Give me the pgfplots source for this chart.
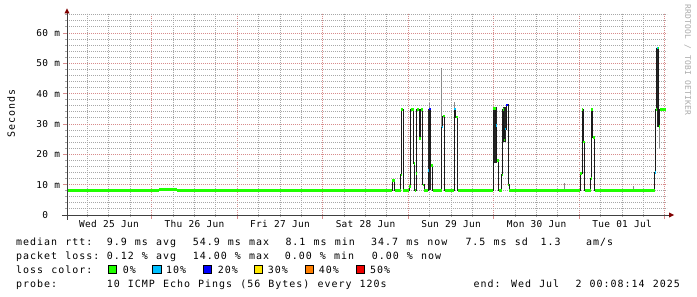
\documentclass[border=0pt]{standalone}
\usepackage{pgfplots}
\pgfplotsset{compat=1.18}
\usepackage{pgfplotstable}
\usepackage{fontspec}
\newfontfamily\lgfont[LetterSpace=10,WordSpace=1.166]{DejaVu Sans Mono}
\newfontfamily\tkfont[LetterSpace=3,WordSpace=1.05]{DejaVu Sans Mono}
\newcommand\lgf{\lgfont\fontsize{10}{12}\selectfont}
\newcommand\tkf{\tkfont\fontsize{9.5}{11}\selectfont}
\newcommand\wmf{\tkfont\fontsize{8}{9.5}\selectfont}
\definecolor{mgrid}{HTML}{D88C8C}
\definecolor{ngrid}{HTML}{A8A8A8}
\definecolor{axiscol}{HTML}{404040}
\definecolor{arrowcol}{HTML}{800000}
\definecolor{medblack}{HTML}{1A1A1A}
\definecolor{smoke}{HTML}{262626}
\definecolor{smokel}{HTML}{8A8A8A}
\definecolor{wmcol}{HTML}{AAAAAA}
\definecolor{c0}{HTML}{20FF00}
\definecolor{c10}{HTML}{00C0FF}
\definecolor{c20}{HTML}{0000FF}
\definecolor{c30}{HTML}{FFE800}
\definecolor{c40}{HTML}{FF7F00}
\definecolor{c50}{HTML}{EE0000}

% median rtt (ms) vs hours since Wed 25 Jun 00:00
\pgfplotstableread{
h v
0.22 8.1
26.04 8.5
31.09 8.1
91.52 11.3
92.13 8.1
93.82 13.2
94.01 34.8
94.60 8.1
96.29 9.3
96.68 34.8
97.52 17.0
97.83 8.1
98.17 13.7
98.39 34.8
99.09 25.3
99.49 34.8
100.05 9.9
100.41 8.1
101.62 14.6
101.90 35.0
102.29 16.3
102.85 8.1
105.32 29.0
105.66 32.6
106.22 8.1
108.92 35.0
109.25 32.3
109.87 8.1
119.86 35.2
120.48 29.5
120.84 18.0
121.38 8.1
122.25 13.2
122.44 34.8
122.78 24.7
123.06 28.3
123.42 36.3
123.99 9.9
124.35 8.1
144.19 13.7
144.75 34.8
145.12 24.1
145.51 8.1
147.20 12.1
147.36 34.8
147.76 25.6
148.32 8.1
165.16 14.0
165.38 34.8
165.72 55.0
166.28 29.1
166.50 34.7
168.41 34.7
}\median

\begin{document}
\begin{tikzpicture}
\path[use as bounding box] (-67bp,-82bp) rectangle (630bp,215bp);
\begin{axis}[
  scale only axis, width=600bp, height=202bp,
  at={(0,0)}, anchor=south west,
  xmin=0.22, xmax=168.6, ymin=0, ymax=66.6,
  axis line style={draw=none},
  tick pos=left, tick align=outside,
  xtick={24,48,72,96,120,144,168}, xticklabels={},
  minor xtick={6,12,18,30,36,42,54,60,66,78,84,90,102,108,114,126,132,138,150,156,162},
  extra x ticks={12,36,60,84,108,132,156},
  extra x tick labels={Wed 25 Jun,Thu 26 Jun,Fri 27 Jun,Sat 28 Jun,Sun 29 Jun,Mon 30 Jun,Tue 01 Jul},
  extra x tick style={grid=none, major tick length=0pt},
  ytick={0,10,20,30,40,50,60},
  yticklabels={0\hphantom{\ m},10 m,20 m,30 m,40 m,50 m,60 m},
  minor ytick={2,4,6,8,12,14,16,18,22,24,26,28,32,34,36,38,42,44,46,48,52,54,56,58,62,64,66},
  grid=both,
  major grid style={draw=mgrid, dash pattern=on 1bp off 1bp, line width=1bp},
  minor grid style={draw=ngrid, dash pattern=on 1bp off 1bp, line width=1bp},
  major tick length=3.5bp, minor tick length=2bp,
  major tick style={draw=mgrid, line width=1bp},
  minor tick style={draw=ngrid, line width=1bp},
  xticklabel style={font=\tkf, anchor=base, inner sep=0pt, yshift=-12.5bp},
  yticklabel style={font=\tkf, anchor=east, inner sep=0pt, xshift=-3.3bp},
]
% smoke
\addplot[smoke, line width=2.6bp] coordinates {(99.29,25.0) (99.29,35.0)};
\addplot[smoke, line width=2.4bp] coordinates {(101.96,8.1) (101.96,35.0)};
\addplot[smokel, line width=0.9bp] coordinates {(101.96,35.0) (101.96,37.0)};
\addplot[smokel, line width=0.9bp] coordinates {(105.44,29.0) (105.44,48.4)};
\addplot[smokel, line width=0.9bp] coordinates {(108.97,35.0) (108.97,37.4)};
\addplot[smoke, line width=4bp] coordinates {(120.42,17.0) (120.42,35.7)};
\addplot[smoke, line width=3.5bp] coordinates {(122.93,24.0) (122.93,35.5)};
\addplot[smoke, line width=2.3bp] coordinates {(166.04,29.0) (166.04,55.0)};
\addplot[smokel, line width=0.9bp] coordinates {(166.45,22.0) (166.45,29.0)};
\addplot[smokel, line width=0.9bp] coordinates {(139.71,8.1) (139.71,10.4)};
\addplot[smokel, line width=0.9bp] coordinates {(159.15,8.1) (159.15,9.7)};
% median
\addplot[medblack, line width=1bp, const plot mark left] table[x=h,y=v] {\median};
\addplot[c0, line width=2.6bp, jump mark left] table[x=h,y=v] {\median};
% loss coloured segments
\addplot[c10, line width=2.6bp] coordinates {(101.62,14.6) (101.90,14.6)};
\addplot[c10, line width=2.6bp] coordinates {(105.32,29.0) (105.66,29.0)};
\addplot[c10, line width=2.6bp] coordinates {(108.92,35.0) (109.25,35.0)};
\addplot[c10, line width=2.6bp] coordinates {(120.48,29.5) (120.84,29.5)};
\addplot[c10, line width=2.6bp] coordinates {(123.06,28.3) (123.42,28.3)};
\addplot[c10, line width=2.6bp] coordinates {(165.16,14.0) (165.38,14.0)};
\addplot[c10, line width=2.6bp] coordinates {(165.72,55.0) (166.00,55.0)};
\addplot[c20, line width=2.6bp] coordinates {(101.90,35.0) (102.29,35.0)};
\addplot[c20, line width=2.6bp] coordinates {(123.42,36.3) (123.99,36.3)};
\end{axis}
% axis lines and arrows
\draw[axiscol, line width=1bp] (-5bp,0) -- (602bp,0);
\fill[arrowcol] (602bp,2.5bp) -- (607bp,0) -- (602bp,-2.5bp) -- cycle;
\draw[axiscol, line width=1bp] (0,-4.5bp) -- (0,202bp);
\fill[arrowcol] (-2.5bp,201.7bp) -- (0,206.5bp) -- (2.5bp,201.7bp) -- cycle;
% labels
\node[rotate=90, anchor=base, inner sep=0pt, font=\lgf] at (-52bp,101.5bp) {Seconds};
\node[rotate=-90, anchor=base, inner sep=0pt, font=\wmf, text=wmcol] at (618bp,155bp) {RRDTOOL / TOBI OETIKER};
% legend
\begin{scope}[every node/.style={anchor=base west, inner sep=0pt, font=\lgf}]
\node at (-51bp,-30.3bp) {median rtt:};
\node at (39.6bp,-30.3bp) {9.9 ms avg};
\node at (125.6bp,-30.3bp) {54.9 ms max};
\node at (218.3bp,-30.3bp) {8.1 ms min};
\node at (304bp,-30.3bp) {34.7 ms now};
\node at (398.3bp,-30.3bp) {7.5 ms sd};
\node at (473.5bp,-30.3bp) {1.3};
\node at (519bp,-30.3bp) {am/s};
\node at (-51bp,-44.3bp) {packet loss:};
\node at (39.6bp,-44.3bp) {0.12 \% avg};
\node at (125.6bp,-44.3bp) {14.00 \% max};
\node at (217.6bp,-44.3bp) {0.00 \% min};
\node at (304.6bp,-44.3bp) {0.00 \% now};
\node at (-51bp,-58.3bp) {loss color:};
\node at (55.6bp,-58.3bp) {0\%};
\node at (99bp,-58.3bp) {10\%};
\node at (150.6bp,-58.3bp) {20\%};
\node at (200.6bp,-58.3bp) {30\%};
\node at (251.6bp,-58.3bp) {40\%};
\node at (303bp,-58.3bp) {50\%};
\node at (-51bp,-72.3bp) {probe:};
\node at (39.6bp,-72.3bp) {10 ICMP Echo Pings (56 Bytes) every 120s};
\node[anchor=base east] at (613bp,-72.3bp) {end: Wed Jul\ \ 2 00:08:14 2025};
\end{scope}
\foreach \bx/\bc in {41.3/c0,85.6/c10,136.2/c20,187/c30,238/c40,289/c50}{
  \filldraw[fill=\bc, draw=black, line width=0.8bp] (\bx bp,-58.5bp) rectangle ++(8.3bp,8.5bp);
}
\end{tikzpicture}
\end{document}
